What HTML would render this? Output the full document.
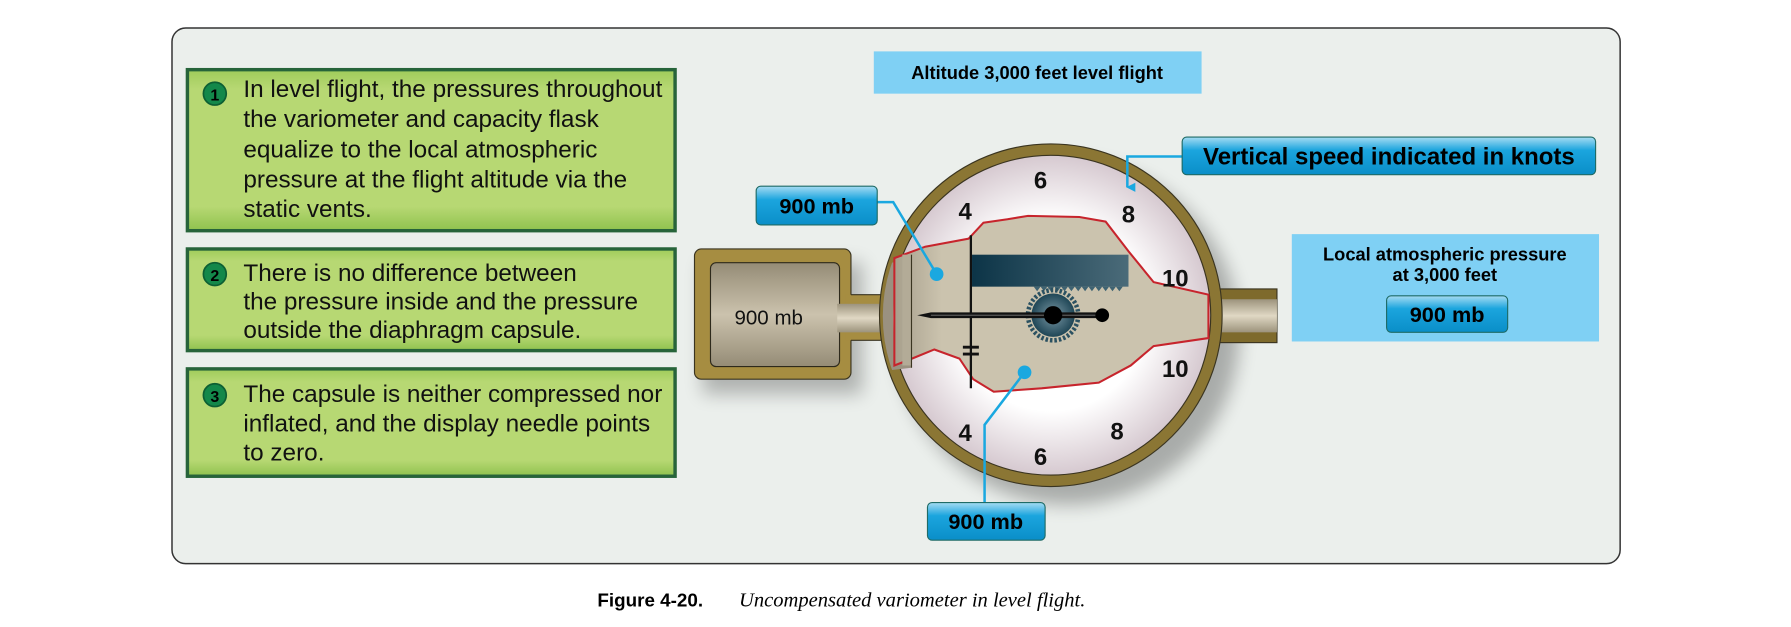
<!DOCTYPE html>
<html><head><meta charset="utf-8"><style>
html,body{margin:0;padding:0;background:#fff;}
svg{display:block;}
text{font-family:"Liberation Sans",Arial,sans-serif;}
</style></head><body>
<svg width="1791" height="627" viewBox="0 0 1568 549" xmlns="http://www.w3.org/2000/svg">
<defs>
<linearGradient id="gbox" x1="0" y1="0" x2="0" y2="1"><stop offset="0" stop-color="#9fcb5a"/><stop offset="0.12" stop-color="#b7d873"/><stop offset="0.85" stop-color="#b7d873"/><stop offset="1" stop-color="#8fc24e"/></linearGradient>
<linearGradient id="gbtn" x1="0" y1="0" x2="0" y2="1"><stop offset="0" stop-color="#a6dcf3"/><stop offset="0.35" stop-color="#1ba5de"/><stop offset="1" stop-color="#0a8ec8"/></linearGradient>
<radialGradient id="gface" cx="0.5" cy="0.5" r="0.5"><stop offset="0.6" stop-color="#ffffff"/><stop offset="1" stop-color="#d6c9d0"/></radialGradient>
<linearGradient id="gflask" x1="0" y1="0" x2="0" y2="1"><stop offset="0" stop-color="#958c76"/><stop offset="0.5" stop-color="#cbc2ad"/><stop offset="1" stop-color="#958c76"/></linearGradient>
<linearGradient id="gtube" x1="0" y1="0" x2="0" y2="1"><stop offset="0" stop-color="#9c937c"/><stop offset="0.5" stop-color="#e0d8c4"/><stop offset="1" stop-color="#9c937c"/></linearGradient>
<linearGradient id="grack" x1="0" y1="0" x2="1" y2="0"><stop offset="0" stop-color="#0c3447"/><stop offset="1" stop-color="#4b6b79"/></linearGradient>
<radialGradient id="ggear"><stop offset="0" stop-color="#7a98a5"/><stop offset="1" stop-color="#1f4656"/></radialGradient>
<linearGradient id="gcap" x1="0" y1="0" x2="1" y2="0"><stop offset="0" stop-color="#a79f8c"/><stop offset="0.15" stop-color="#cbc3ae"/><stop offset="1" stop-color="#cbc3ae"/></linearGradient>
<filter id="sh" x="-20%" y="-20%" width="150%" height="150%"><feGaussianBlur stdDeviation="8"/></filter>
<marker id="arr" markerWidth="8" markerHeight="8" refX="4" refY="7" orient="auto" markerUnits="userSpaceOnUse"><path d="M0,0 L8,0 L4,8 z" fill="#1aa8e0"/></marker>
</defs>

<rect x="150.5" y="24.5" width="1268" height="469" rx="12" fill="#ebefec" stroke="#333" stroke-width="1.3"/>

<g>
<rect x="164" y="61" width="427" height="141" fill="url(#gbox)" stroke="#27643a" stroke-width="3"/>
<circle cx="188" cy="82" r="10" fill="#13884a" stroke="#0d5f33" stroke-width="1.5"/>
<text x="188" y="88" font-size="14" font-weight="bold" text-anchor="middle" fill="#000">1</text>
<text font-size="21.3" fill="#111"><tspan x="213" y="85">In level flight, the pressures throughout</tspan><tspan x="213" y="111">the variometer and capacity flask</tspan><tspan x="213" y="138">equalize to the local atmospheric</tspan><tspan x="213" y="164">pressure at the flight altitude via the</tspan><tspan x="213" y="190">static vents.</tspan></text>

<rect x="164" y="218" width="427" height="89" fill="url(#gbox)" stroke="#27643a" stroke-width="3"/>
<circle cx="188" cy="240" r="10" fill="#13884a" stroke="#0d5f33" stroke-width="1.5"/>
<text x="188" y="246" font-size="14" font-weight="bold" text-anchor="middle">2</text>
<text font-size="21.3" fill="#111"><tspan x="213" y="246">There is no difference between</tspan><tspan x="213" y="271">the pressure inside and the pressure</tspan><tspan x="213" y="296">outside the diaphragm capsule.</tspan></text>

<rect x="164" y="323" width="427" height="94" fill="url(#gbox)" stroke="#27643a" stroke-width="3"/>
<circle cx="188" cy="346" r="10" fill="#13884a" stroke="#0d5f33" stroke-width="1.5"/>
<text x="188" y="352" font-size="14" font-weight="bold" text-anchor="middle">3</text>
<text font-size="21.3" fill="#111"><tspan x="213" y="352">The capsule is neither compressed nor</tspan><tspan x="213" y="378">inflated, and the display needle points</tspan><tspan x="213" y="403">to zero.</tspan></text>
</g>

<rect x="765" y="45" width="287" height="37" fill="#7fd0f4"/>
<text x="908" y="69" font-size="16" font-weight="bold" text-anchor="middle">Altitude 3,000 feet level flight</text>

<ellipse cx="935" cy="292" rx="150" ry="150" fill="#000" opacity="0.28" filter="url(#sh)"/>
<rect x="615" y="230" width="140" height="115" fill="#000" opacity="0.25" filter="url(#sh)"/>

<rect x="608" y="218" width="137" height="114" rx="6" fill="#a68d41" stroke="#3a3420" stroke-width="1"/>
<rect x="740" y="258" width="55" height="40" fill="#a68d41"/>
<line x1="745" y1="258" x2="790" y2="258" stroke="#3a3420"/>
<line x1="745" y1="298" x2="790" y2="298" stroke="#3a3420"/>
<rect x="622" y="230" width="113" height="91" rx="5" fill="url(#gflask)" stroke="#2e2a1c" stroke-width="1"/>
<rect x="733" y="266" width="62" height="25" fill="url(#gtube)"/>
<text x="673" y="284" font-size="18" text-anchor="middle" fill="#111">900 mb</text>

<rect x="1055" y="253" width="63" height="47" fill="#7e6a2c" stroke="#3a3420"/>
<rect x="1060" y="262" width="58" height="29" fill="url(#gtube)"/>

<circle cx="920" cy="276" r="150" fill="#8b7634" stroke="#3a3420" stroke-width="1"/>
<circle cx="920" cy="276" r="140" fill="url(#gface)" stroke="#3a3420" stroke-width="1"/>
<path d="M781,230 L798,226 L798,322 L781,324 A140,140 0 0 1 781,230 Z" fill="#9a9180"/>
<rect x="782" y="266" width="16" height="25" fill="url(#gtube)"/>
<path d="M783,226 L810,216 L848,209 L861,195 L882,192 L900,189 L945,190 L968,194 L988,220 L1010,247 L1058,258 L1058,296 L1010,303 L990,320 L962,335 L912,340 L870,343 L852,332 L840,314 L818,306 L796,315 L783,320 Z" fill="url(#gcap)" stroke="#c7242c" stroke-width="1.8"/>
<rect x="790" y="223" width="8" height="97" fill="#b3ab97"/>
<line x1="798" y1="223" x2="798" y2="322" stroke="#3a3420" stroke-width="1"/>
<line x1="850" y1="206" x2="850" y2="340" stroke="#111" stroke-width="2"/>
<line x1="843" y1="304" x2="857" y2="304" stroke="#111" stroke-width="2.5"/>
<line x1="843" y1="310" x2="857" y2="310" stroke="#111" stroke-width="2.5"/>
<rect x="851" y="223" width="137" height="28" fill="url(#grack)"/>
<path d="M905,251 l3,4 l3,-4 l3,4 l3,-4 l3,4 l3,-4 l3,4 l3,-4 l3,4 l3,-4 l3,4 l3,-4 l3,4 l3,-4 l3,4 l3,-4 l3,4 l3,-4 l3,4 l3,-4 l3,4 l3,-4 l3,4 l3,-4 l3,4 l3,-4 L988,251 Z" fill="#3f6372"/>
<circle cx="922" cy="276" r="22" fill="none" stroke="#2b5161" stroke-width="4" stroke-dasharray="2.2 1.7"/>
<circle cx="922" cy="276" r="19" fill="url(#ggear)"/>
<path d="M803,276 L815,273.5 L965,273.5 L965,278.5 L815,278.5 Z" fill="#111"/>
<line x1="815" y1="276" x2="960" y2="276" stroke="#777" stroke-width="0.8"/>
<circle cx="922" cy="276" r="8" fill="#000"/>
<circle cx="965" cy="276" r="6" fill="#000"/>

<g font-size="21" font-weight="bold" text-anchor="middle" fill="#111">
<text x="911" y="165">6</text>
<text x="845" y="192">4</text>
<text x="988" y="195">8</text>
<text x="1029" y="251">10</text>
<text x="1029" y="330">10</text>
<text x="978" y="385">8</text>
<text x="845" y="386">4</text>
<text x="911" y="407">6</text>
</g>

<g stroke="#1aa8e0" stroke-width="2.2" fill="none">
<polyline points="768,177 782,177 820,240"/>
<polyline points="862,440 862,372 897,326"/>
<polyline points="1035,137 987,137 987,164" marker-end="url(#arr)"/>
</g>
<circle cx="820" cy="240" r="6" fill="#1aa8e0"/>
<circle cx="897" cy="326" r="6" fill="#1aa8e0"/>

<rect x="662" y="163" width="106" height="34" rx="4" fill="url(#gbtn)" stroke="#1f6b66" stroke-width="1"/>
<text x="715" y="187" font-size="19" font-weight="bold" text-anchor="middle">900 mb</text>
<rect x="812" y="440" width="103" height="33" rx="4" fill="url(#gbtn)" stroke="#1f6b66" stroke-width="1"/>
<text x="863" y="463" font-size="19" font-weight="bold" text-anchor="middle">900 mb</text>
<rect x="1035" y="120" width="362" height="33" rx="4" fill="url(#gbtn)" stroke="#1f6b66" stroke-width="1"/>
<text x="1216" y="144" font-size="21" font-weight="bold" text-anchor="middle">Vertical speed indicated in knots</text>

<rect x="1131" y="205" width="269" height="94" fill="#7fd0f4"/>
<text x="1265" y="228" font-size="16" font-weight="bold" text-anchor="middle">Local atmospheric pressure</text>
<text x="1265" y="246" font-size="16" font-weight="bold" text-anchor="middle">at 3,000 feet</text>
<rect x="1214" y="259" width="106" height="32" rx="4" fill="url(#gbtn)" stroke="#1f6b66" stroke-width="1"/>
<text x="1267" y="282" font-size="19" font-weight="bold" text-anchor="middle">900 mb</text>

<text x="523" y="531" font-size="16.5" font-weight="bold">Figure 4-20.</text>
<text x="647" y="531" font-size="18" font-style="italic" style="font-family:'Liberation Serif',serif">Uncompensated variometer in level flight.</text>
</svg>
</body></html>
